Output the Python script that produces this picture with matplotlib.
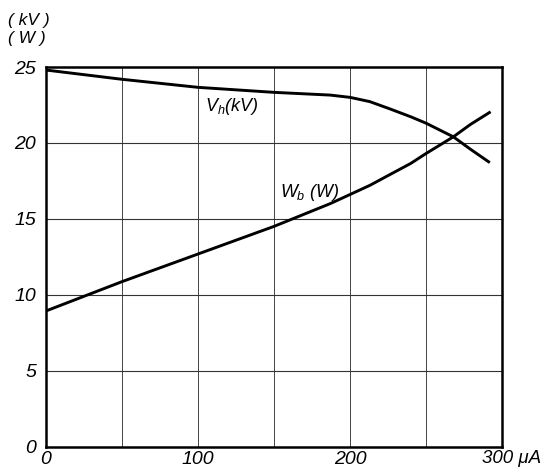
import numpy as np
import matplotlib.pyplot as plt

# Anode current (uA) and the two curves
i_vh = [0, 50, 100, 150, 187, 200, 213, 226, 240, 250, 268, 279, 292]
vh_kv = [24.8, 24.19, 23.66, 23.33, 23.15, 23.0, 22.72, 22.25, 21.72, 21.3, 20.4, 19.6, 18.7]

i_wb = [0, 50, 100, 150, 187, 200, 213, 226, 240, 250, 268, 279, 292.5]
wb_w = [8.93, 10.86, 12.68, 14.5, 16.0, 16.6, 17.2, 17.9, 18.65, 19.3, 20.4, 21.2, 22.05]

xticks = [0, 100, 200]
yticks = [0, 5, 10, 15, 20, 25]

plt.rcParams['font.family'] = ['Liberation Sans', 'DejaVu Sans']
plt.rcParams['font.style'] = 'italic'
plt.rcParams['mathtext.fontset'] = 'custom'
plt.rcParams['mathtext.it'] = 'Liberation Sans:italic'
plt.rcParams['mathtext.rm'] = 'Liberation Sans:italic'

fig = plt.figure(figsize=(5.46, 4.71), dpi=100)
ax = fig.add_axes([46 / 546, 1 - 446.5 / 471, 456 / 546, 379.5 / 471])

ax.plot(i_vh, vh_kv, color='black', linewidth=2.1, solid_capstyle='butt')
ax.plot(i_wb, wb_w, color='black', linewidth=2.1, solid_capstyle='butt')

ax.set_xlim(0, 300)
ax.set_ylim(0, 25)

# grid every 50 uA / 5 units
for gx in np.arange(50, 300, 50):
    ax.axvline(gx, color='#444444', linewidth=0.7, zorder=0)
for gy in np.arange(5, 25, 5):
    ax.axhline(gy, color='#333333', linewidth=0.8, zorder=0)

for s in ax.spines.values():
    s.set_linewidth(1.8)

ax.set_xticks(xticks)
ax.set_xticklabels([str(t) for t in xticks], fontsize=14, style='italic')
ax.set_yticks(yticks)
ax.set_yticklabels([str(t) for t in yticks], fontsize=14, style='italic')
ax.tick_params(axis='y', length=0, pad=7)
ax.tick_params(axis='x', length=0, pad=3)

ax.text(287, -0.25, '300 \u03bcA', fontsize=13.5, style='italic',
        ha='left', va='top', clip_on=False)

# unit labels in the top-left corner
fig.text(8 / 546, 1 - 20 / 471, '( kV )', fontsize=12.5, style='italic', va='center')
fig.text(8 / 546, 1 - 39 / 471, '( W )', fontsize=12.5, style='italic', va='center')

# curve labels
ax.text(104.5, 22.1, '$V_h$(kV)', fontsize=13, style='italic')
ax.text(154, 16.45, '$W_b$ (W)', fontsize=13, style='italic')

fig.savefig('out.png', dpi=100)
